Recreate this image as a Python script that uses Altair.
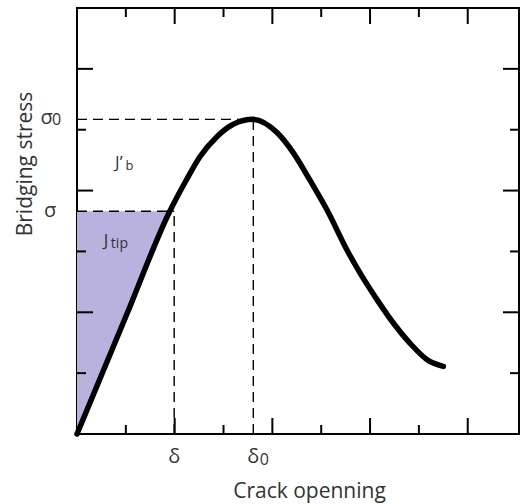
import altair as alt
import pandas as pd

# ---- data (axis units) ----
curve_x = [0.0, 1.0, 1.9, 2.25, 2.52, 2.87, 3.20, 3.61, 4.10, 4.43, 4.77, 5.12, 5.53, 5.80, 6.15, 6.48, 6.82, 7.17, 7.50]
curve_y = [0.0, 1.93, 3.66, 4.19, 4.56, 4.89, 5.09, 5.17, 4.95, 4.62, 4.17, 3.68, 3.02, 2.64, 2.20, 1.82, 1.49, 1.22, 1.11]

sigma = 3.66
sigma0 = 5.17
delta = 1.99
delta0 = 3.61
x_at_sigma = 1.9

x_major = [2, 4, 6, 8]
x_minor = [1, 3, 5, 7]
y_major = [2, 4, 6]
y_minor = [1, 3, 5]
x_domain = [0, 9.05]
y_domain = [0, 7]

x_tick_text = ["δ", "δ"]
x_tick_sub = ["", "0"]
x_tick_pos = [delta, delta0]

jb_pos = (0.78, 4.37)
jtip_pos = (0.55, 3.09)

W, H = 442, 426
TXT = "#333333"
FONT = "Open Sans"

xs = alt.Scale(domain=x_domain, nice=False, zero=False)
ys = alt.Scale(domain=y_domain, nice=False, zero=False)
x_axis = alt.Axis(title="Crack openning", labels=False, ticks=False, domain=False, grid=False,
                  titleX=232, titleY=63, titleAlign="center", titleBaseline="alphabetic",
                  titleFontSize=21, titleFontWeight="normal", titleColor=TXT, titleFont=FONT)
y_axis = alt.Axis(title="Bridging stress", labels=False, ticks=False, domain=False, grid=False,
                  titleX=-46, titleY=155.5, titleAngle=270, titleAlign="center", titleBaseline="alphabetic",
                  titleFontSize=21, titleFontWeight="normal", titleColor=TXT, titleFont=FONT)


def X(f):
    return alt.X(f, type="quantitative", scale=xs, axis=x_axis)


def Y(f):
    return alt.Y(f, type="quantitative", scale=ys, axis=y_axis)


curve_df = pd.DataFrame({"x": curve_x, "y": curve_y})
fill_df = pd.DataFrame({"x": [0, x_at_sigma], "y": [0, sigma], "y2": [sigma, sigma]})
dash_df = pd.DataFrame({
    "x": [0, delta, 0, delta0],
    "x2": [delta, delta, delta0, delta0],
    "y": [sigma, 0, sigma0, 0],
    "y2": [sigma, sigma, sigma0, sigma0],
})

fill = alt.Chart(fill_df).mark_area(color="#b9b1de", opacity=1).encode(
    x=X("x"), y=Y("y"), y2="y2")

dashes = alt.Chart(dash_df).mark_rule(color="black", strokeWidth=1.4, strokeDash=[10, 6]).encode(
    x=X("x"), x2="x2", y=Y("y"), y2="y2")

curve = alt.Chart(curve_df).mark_line(color="black", strokeWidth=5.5, strokeCap="round",
                                      strokeJoin="round", interpolate="monotone").encode(
    x=X("x"), y=Y("y"))

MAJ, MIN = 16, 9
tick_layers = []
for vals, ln in [(x_major, MAJ), (x_minor, MIN)]:
    d = pd.DataFrame({"x": vals})
    tick_layers.append(alt.Chart(d).mark_rule(color="black", strokeWidth=2).encode(
        x=X("x"), y=alt.value(H), y2=alt.value(H - ln)))
    tick_layers.append(alt.Chart(d).mark_rule(color="black", strokeWidth=2).encode(
        x=X("x"), y=alt.value(0), y2=alt.value(ln)))
for vals, ln in [(y_major, MAJ), (y_minor, MIN)]:
    d = pd.DataFrame({"y": vals})
    tick_layers.append(alt.Chart(d).mark_rule(color="black", strokeWidth=2).encode(
        y=Y("y"), x=alt.value(0), x2=alt.value(ln)))
    tick_layers.append(alt.Chart(d).mark_rule(color="black", strokeWidth=2).encode(
        y=Y("y"), x=alt.value(W), x2=alt.value(W - ln)))

# tick labels
xl_df = pd.DataFrame({"x": x_tick_pos, "t": x_tick_text, "s": x_tick_sub})
xl_main = alt.Chart(xl_df).mark_text(fontSize=20, align="center", baseline="alphabetic",
                                     color=TXT, font=FONT).encode(
    x=X("x"), y=alt.value(455), text="t:N")
xl_sub = alt.Chart(xl_df).mark_text(fontSize=16, align="center", baseline="alphabetic",
                                    color=TXT, font=FONT, dx=11).encode(
    x=X("x"), y=alt.value(457), text="s:N")

yl1 = alt.Chart(pd.DataFrame({"y": [sigma], "t": ["σ"]})).mark_text(
    fontSize=20, align="center", baseline="alphabetic", color=TXT, font=FONT, dy=6).encode(
    y=Y("y"), x=alt.value(-27), text="t:N")
yl2 = alt.Chart(pd.DataFrame({"y": [sigma0], "t": ["σ"]})).mark_text(
    fontSize=20, align="center", baseline="alphabetic", color=TXT, font=FONT, dy=5).encode(
    y=Y("y"), x=alt.value(-30.5), text="t:N")
yl3 = alt.Chart(pd.DataFrame({"y": [sigma0], "t": ["0"]})).mark_text(
    fontSize=16, align="center", baseline="alphabetic", color=TXT, font=FONT, dy=6).encode(
    y=Y("y"), x=alt.value(-20.5), text="t:N")

# region labels
jb_main = alt.Chart(pd.DataFrame({"x": [jb_pos[0]], "y": [jb_pos[1]], "t": ["J’"]})).mark_text(
    fontSize=17, align="left", baseline="alphabetic", color=TXT, font=FONT).encode(
    x=X("x"), y=Y("y"), text="t:N")
jb_sub = alt.Chart(pd.DataFrame({"x": [jb_pos[0]], "y": [jb_pos[1]], "t": ["b"]})).mark_text(
    fontSize=13, align="left", baseline="alphabetic", color=TXT, font=FONT, dx=10.5, dy=2).encode(
    x=X("x"), y=Y("y"), text="t:N")
jt_main = alt.Chart(pd.DataFrame({"x": [jtip_pos[0]], "y": [jtip_pos[1]], "t": ["J"]})).mark_text(
    fontSize=17, align="left", baseline="alphabetic", color=TXT, font=FONT).encode(
    x=X("x"), y=Y("y"), text="t:N")
jt_sub = alt.Chart(pd.DataFrame({"x": [jtip_pos[0]], "y": [jtip_pos[1]], "t": ["tip"]})).mark_text(
    fontSize=14, align="left", baseline="alphabetic", color=TXT, font=FONT, dx=7, dy=2).encode(
    x=X("x"), y=Y("y"), text="t:N")

chart = alt.layer(
    fill, dashes, curve, *tick_layers, xl_main, xl_sub, yl1, yl2, yl3,
    jb_main, jb_sub, jt_main, jt_sub
).properties(
    width=W, height=H,
    autosize=alt.AutoSizeParams(type="none"),
    padding={"left": 77, "top": 8, "right": 2, "bottom": 70},
    background="white",
).configure(
    font=FONT,
    view=alt.ViewConfig(stroke="black", strokeWidth=2),
)

chart.save("out.html", embed_options={"renderer": "svg", "actions": False})
